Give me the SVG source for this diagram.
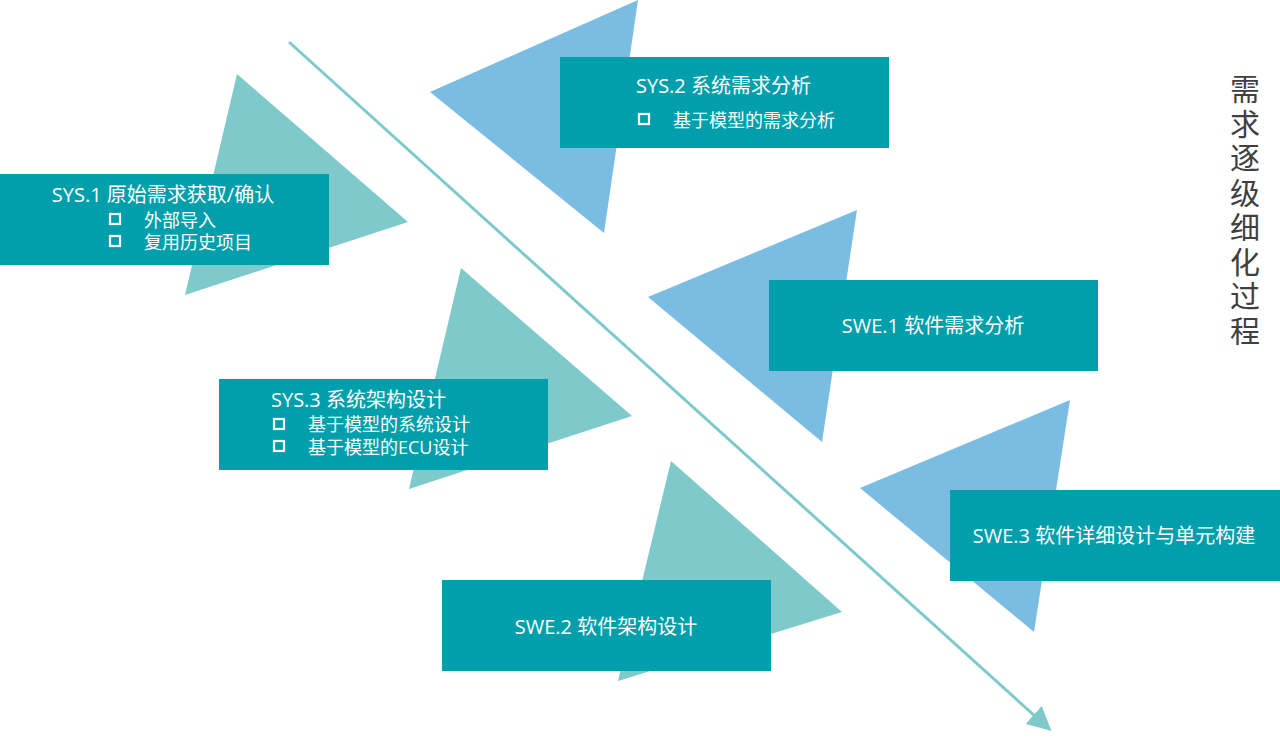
<svg xmlns="http://www.w3.org/2000/svg" width="1280" height="745" viewBox="0 0 1280 745">
<style>
.tt{fill:#7ECACB}
.tb{fill:#7BBDE2}
.box{fill:#009FAB}
.lbl{font-family:"Open Sans","Noto Sans CJK SC",sans-serif;font-size:18px;fill:#ffffff}
.ttl{font-family:"Open Sans","Noto Sans CJK SC",sans-serif;font-size:20px;fill:#ffffff}
.bul{fill:none;stroke:#ffffff;stroke-width:2.2}
.vt{font-family:"Noto Sans CJK SC",sans-serif;font-size:30px;fill:#404040;writing-mode:tb;letter-spacing:4.5px}
</style>
<defs>
<marker id="ah" markerWidth="8" markerHeight="8" refX="6" refY="4" orient="auto" markerUnits="strokeWidth">
<path d="M0,0 L8,4 L0,8 Z" fill="#7ECACB"/>
</marker>
</defs>
<rect width="1280" height="745" fill="#ffffff"/>
<g id="connectors">
<line x1="289" y1="42" x2="1047" y2="727" stroke="#7ECACB" stroke-width="3" marker-end="url(#ah)"/>
</g>
<g id="sys1">
<polygon class="tt" points="237,74 408,222 185,295"/>
<rect class="box" x="0" y="174" width="329" height="91"/>
<text class="ttl" x="163" y="202" text-anchor="middle">SYS.1 原始需求获取/确认</text>
<rect class="bul" x="110" y="214" width="10" height="10"/>
<text class="lbl" x="144" y="227">外部导入</text>
<rect class="bul" x="110" y="236" width="10" height="10"/>
<text class="lbl" x="144" y="249">复用历史项目</text>
</g>
<g id="sys2">
<polygon class="tb" points="638,0 430,92 604,233"/>
<rect class="box" x="560" y="57" width="329" height="91"/>
<text class="ttl" x="636" y="93">SYS.2 系统需求分析</text>
<rect class="bul" x="639" y="114" width="10" height="10"/>
<text class="lbl" x="673" y="127" font-size="17.5">基于模型的需求分析</text>
</g>
<g id="swe1">
<polygon class="tb" points="857,210 648,297 822,442"/>
<rect class="box" x="769" y="280" width="329" height="91"/>
<text class="ttl" x="933" y="333" text-anchor="middle">SWE.1 软件需求分析</text>
</g>
<g id="sys3">
<polygon class="tt" points="461,268 632,416 409,489"/>
<rect class="box" x="219" y="379" width="329" height="91"/>
<text class="ttl" x="271" y="407">SYS.3 系统架构设计</text>
<rect class="bul" x="274" y="419" width="10" height="10"/>
<text class="lbl" x="308" y="431">基于模型的系统设计</text>
<rect class="bul" x="274" y="441" width="10" height="10"/>
<text class="lbl" x="308" y="454">基于模型的ECU设计</text>
</g>
<g id="swe3">
<polygon class="tb" points="1070,400 860,488 1034,632"/>
<rect class="box" x="950" y="490" width="330" height="91"/>
<text class="ttl" x="1114" y="543" text-anchor="middle" font-size="19">SWE.3 软件详细设计与单元构建</text>
</g>
<g id="swe2">
<polygon class="tt" points="671,461 842,612 618,681"/>
<rect class="box" x="442" y="580" width="329" height="91"/>
<text class="ttl" x="606" y="634" text-anchor="middle">SWE.2 软件架构设计</text>
</g>
<g id="title">
<text class="vt" x="1245" y="74">需求逐级细化过程</text>
</g>
</svg>
